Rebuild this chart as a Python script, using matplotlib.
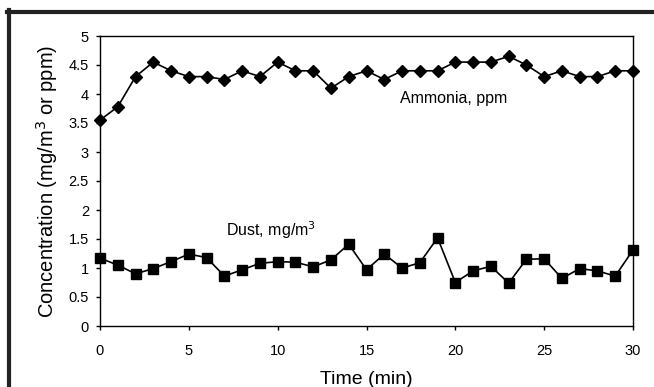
import matplotlib.pyplot as plt
from matplotlib.lines import Line2D

plt.rcParams['font.family'] = ['Liberation Sans', 'DejaVu Sans']

# time in minutes
time_min = list(range(0, 31))

ammonia_ppm = [3.55, 3.78, 4.3, 4.55, 4.4, 4.3, 4.3, 4.25, 4.4, 4.3,
               4.55, 4.4, 4.4, 4.1, 4.3, 4.4, 4.25, 4.4, 4.4, 4.4,
               4.55, 4.55, 4.55, 4.65, 4.5, 4.3, 4.4, 4.3, 4.3, 4.4, 4.4]

dust_mg_m3 = [1.17, 1.05, 0.9, 0.99, 1.11, 1.24, 1.18, 0.86, 0.97, 1.08,
              1.11, 1.10, 1.02, 1.14, 1.41, 0.97, 1.24, 1.0, 1.09, 1.52,
              0.75, 0.95, 1.03, 0.74, 1.15, 1.16, 0.82, 0.99, 0.95, 0.86, 1.31]

x_ticks = [0, 5, 10, 15, 20, 25, 30]
y_ticks = [0, 0.5, 1, 1.5, 2, 2.5, 3, 3.5, 4, 4.5, 5]

fig = plt.figure(figsize=(6.54, 3.87), dpi=100)
ax = fig.add_axes([100 / 654, 1 - 326 / 387, 533 / 654, 290 / 387])

ax.plot(time_min, ammonia_ppm, color='black', lw=1.2, marker='D', ms=6.5, clip_on=False)
ax.plot(time_min, dust_mg_m3, color='black', lw=1.2, marker='s', ms=7, clip_on=False)

ax.text(16.9, 3.93, 'Ammonia, ppm', fontsize=11.5, va='center', ha='left')
ax.text(7.1, 1.66, 'Dust, mg/m$^3$', fontsize=11.5, va='center', ha='left')

ax.set_xlim(0, 30)
ax.set_ylim(0, 5)
ax.set_xticks(x_ticks)
ax.set_yticks(y_ticks)
ax.set_yticklabels([f'{v:g}' for v in y_ticks])
ax.tick_params(axis='both', labelsize=10.5, length=3, width=1, direction='out')
ax.tick_params(axis='x', pad=10)
ax.tick_params(axis='y', pad=5)
for s in ax.spines.values():
    s.set_linewidth(1)

ax.set_xlabel('Time (min)', fontsize=14, labelpad=9)
ax.set_ylabel('Concentration (mg/m$^3$ or ppm)', fontsize=14.5, labelpad=6)

# dark frame around the figure (top and left edges)
fig.add_artist(Line2D([7 / 654, 1], [1 - 11.5 / 387] * 2, color='#222222', lw=3, transform=fig.transFigure))
fig.add_artist(Line2D([9 / 654] * 2, [0, 1 - 10 / 387], color='#222222', lw=3, transform=fig.transFigure))

fig.savefig('out.png', dpi=100)
